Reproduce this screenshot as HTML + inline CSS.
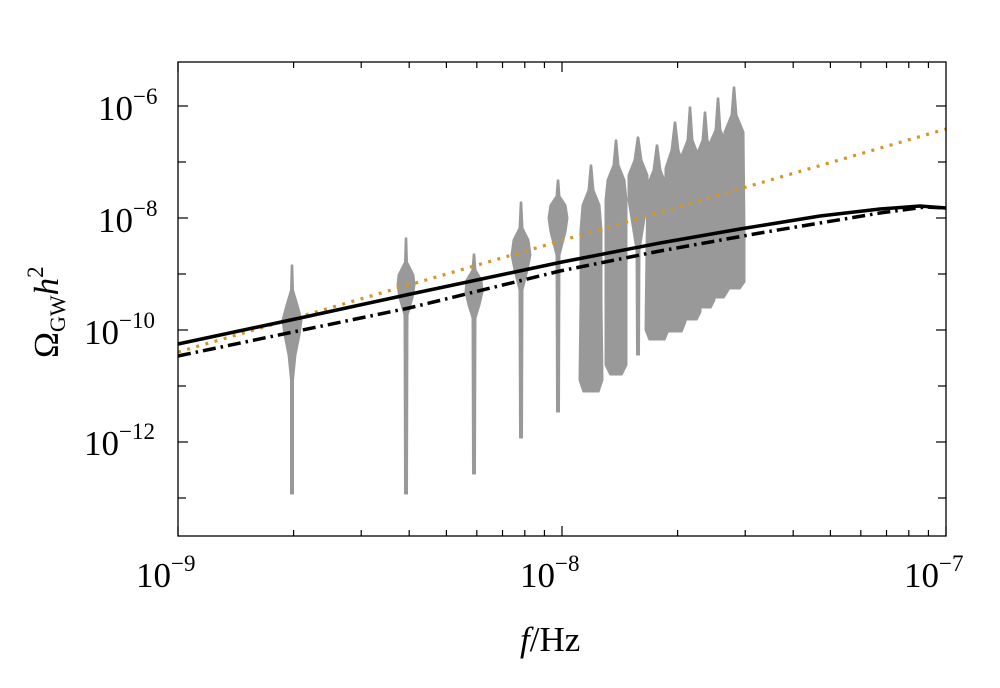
<!DOCTYPE html>
<html><head><meta charset="utf-8"><style>
body{margin:0;background:#fff}
svg text{font-family:"Liberation Serif",serif;fill:#000}
</style></head><body>
<svg id="s" width="1000" height="683" viewBox="0 0 1000 683" xmlns="http://www.w3.org/2000/svg">
<g id="v" fill="#999"></g>
<polyline points="178,352 946,129" fill="none" stroke="#d4962a" stroke-width="3.2" stroke-dasharray="3,6.5"/>
<polyline points="178,356 293,332 409,308 560,271 660,251 760,233 880,213 925,207 946,208" fill="none" stroke="#000" stroke-width="3.5" stroke-dasharray="13,5,2.5,5"/>
<polyline points="178,344 300,318 406,295 562,262 660,243 740,229 820,216 880,209 920,206 946,208" fill="none" stroke="#000" stroke-width="3.5"/>
<rect x="178" y="62" width="768" height="474" fill="none" stroke="#000" stroke-width="1.3"/>
<g id="t" stroke="#000" stroke-width="1.2"></g>
<g font-size="35">
<text x="98" y="120">10<tspan font-size="23" dy="-16">−6</tspan></text>
<text x="98" y="232">10<tspan font-size="23" dy="-16">−8</tspan></text>
<text x="84" y="344">10<tspan font-size="23" dy="-16">−10</tspan></text>
<text x="84" y="455">10<tspan font-size="23" dy="-16">−12</tspan></text>
<text x="136" y="587">10<tspan font-size="23" dy="-16">−9</tspan></text>
<text x="520" y="587">10<tspan font-size="23" dy="-16">−8</tspan></text>
<text x="904" y="587">10<tspan font-size="23" dy="-16">−7</tspan></text>
<text x="520" y="651"><tspan font-style="italic">f</tspan>/Hz</text>
<text transform="translate(58,358) rotate(-90)">Ω<tspan font-size="22" dy="7">GW</tspan><tspan dy="-7" font-style="italic">h</tspan><tspan font-size="23" dy="-15">2</tspan></text>
</g>
</svg>
<script>
const NS="http://www.w3.org/2000/svg";
const t=document.getElementById('t');
function ln(x1,y1,x2,y2){const l=document.createElementNS(NS,'line');l.setAttribute('x1',x1);l.setAttribute('y1',y1);l.setAttribute('x2',x2);l.setAttribute('y2',y2);t.appendChild(l);}
for(let d=-9;d<-7;d++)for(let m=1;m<10;m++){const x=178+384*(d+9+Math.log10(m));const L=m==1?10:6;ln(x,536,x,536-L);ln(x,62,x,62+L);}
ln(946,536,946,526);
for(let e=-5;e>=-13;e--){const y=330-56*(e+10);if(y<62||y>536)continue;const L=(e%2==0)?10:8;ln(178,y,178+L,y);ln(946,y,946-L,y);}
const V=[
[292,[[265,0.8],[290,1.5],[305,6],[320,10],[335,8],[355,4],[380,1.5],[494,1.5]]],
[406,[[238,0.8],[262,1.5],[275,8],[285,9],[298,7],[315,2],[494,1.5]]],
[474,[[254,0.8],[270,2],[280,8],[292,9],[305,6],[318,2],[474,1.5]]],
[521,[[202,0.8],[228,2],[240,8],[255,10],[270,7],[290,2],[438,1.5]]],
[558,[[180,0.8],[196,2],[205,8],[218,10],[232,8],[255,2],[412,1.5]]],
[591,[[165,0.8],[190,3],[205,9],[230,11],[300,11],[380,12],[392,8]]],
[616,[[140,0.8],[165,3],[180,9],[200,11],[300,11],[365,11],[375,6]]],
[638,[[137,0.8],[160,4],[175,10],[200,10],[225,6],[250,2],[355,1.5]]],
[657,[[145,0.8],[170,4],[185,10],[250,11],[330,12],[340,8]]],
[675,[[122,0.8],[150,4],[168,10],[250,11],[322,11],[332,7]]],
[690,[[107,0.8],[140,3],[158,10],[250,11],[312,11],[320,7]]],
[705,[[112,0.8],[140,3],[155,9],[240,10],[300,10],[308,6]]],
[718,[[98,0.8],[130,3],[146,10],[240,11],[290,11],[298,6]]],
[734,[[87,0.8],[115,3],[132,10],[230,11],[282,11],[289,6]]]
];
const g=document.getElementById('v');
for(const [cx,p] of V){let r=p.map(([y,w])=>`${cx+w},${y}`);let l=p.slice().reverse().map(([y,w])=>`${cx-w},${y}`);
const pg=document.createElementNS(NS,'polygon');pg.setAttribute('points',r.concat(l).join(' '));pg.setAttribute('stroke','#999');pg.setAttribute('stroke-linejoin','round');pg.setAttribute('stroke-width','1');g.appendChild(pg);}
</script>
</body></html>
